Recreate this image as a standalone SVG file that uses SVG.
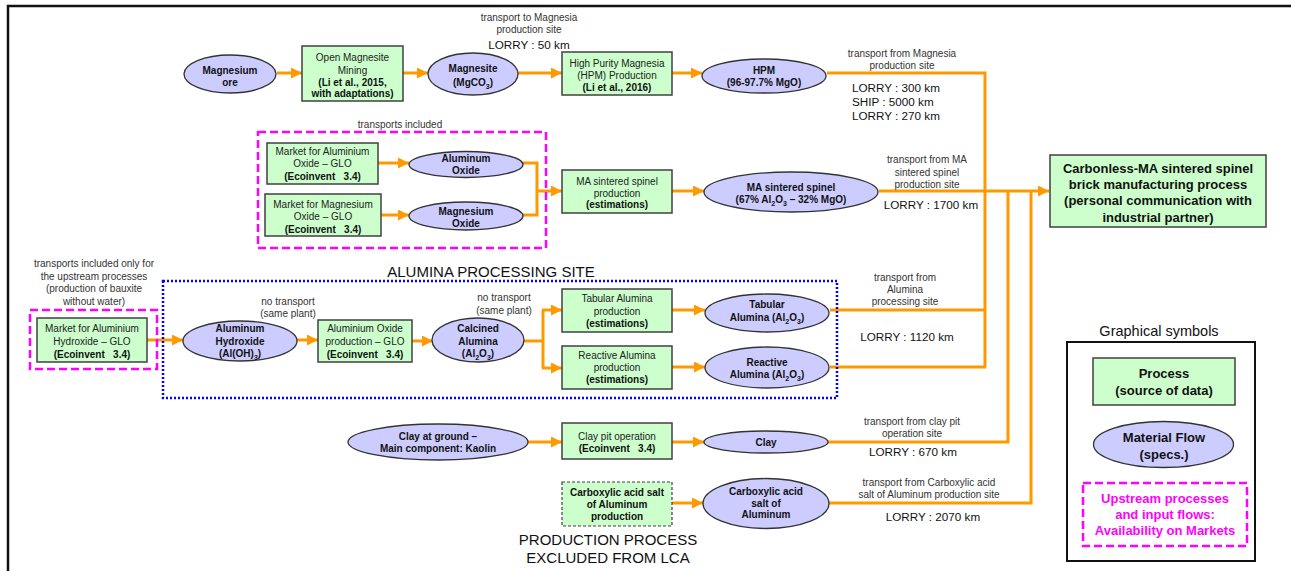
<svg xmlns="http://www.w3.org/2000/svg" width="1291" height="571" viewBox="0 0 1291 571">
<style>
text{font-family:"Liberation Sans",Arial,sans-serif;text-anchor:middle;fill:#222}
.n{font-size:10px}
.b{font-size:10px;font-weight:bold;fill:#111}
.s{font-size:10px;fill:#333}
.l{font-size:11.7px;fill:#111}
.big{font-size:15px;fill:#111}
.proc{fill:#CCFFCC;stroke:#404040;stroke-width:1.5}
.flow{fill:#CCCCFF;stroke:#333;stroke-width:1.3}
.mag{fill:none;stroke:#FF00FF;stroke-width:2.5;stroke-dasharray:8,4}
.c{fill:none;stroke:#FF9900;stroke-width:3}
.a{marker-end:url(#ah)}
</style>
<defs>
<marker id="ah" markerUnits="userSpaceOnUse" markerWidth="11" markerHeight="11" refX="10" refY="5" orient="auto" viewBox="0 0 10 10">
<path d="M0,0 L10,5 L0,10 z" fill="#FF9900"/>
</marker>
</defs>
<rect width="1291" height="571" fill="#fff"/>
<path d="M8,571 V6 H1291" fill="none" stroke="#111" stroke-width="2.5"/>

<g id="connectors">
<line class="c a" x1="277" y1="73" x2="302" y2="73"/>
<line class="c a" x1="403" y1="73" x2="428" y2="73"/>
<line class="c a" x1="518" y1="73" x2="562" y2="73"/>
<line class="c a" x1="672" y1="73" x2="702" y2="73"/>
<path class="c" d="M827,73 H985 V367"/>
<line class="c a" x1="378" y1="163" x2="409" y2="163"/>
<line class="c a" x1="381" y1="215" x2="409" y2="215"/>
<path class="c" d="M523,163 H537 V215 H523"/>
<line class="c a" x1="537" y1="191" x2="562" y2="191"/>
<line class="c a" x1="672" y1="191" x2="704" y2="191"/>
<line class="c a" x1="879" y1="191" x2="1049" y2="191"/>
<line class="c a" x1="147" y1="340" x2="183" y2="340"/>
<line class="c a" x1="296" y1="340" x2="318" y2="340"/>
<line class="c a" x1="412" y1="341" x2="433" y2="341"/>
<path class="c" d="M524,341 H543"/>
<path class="c" d="M543,310 V368"/>
<line class="c a" x1="542" y1="310" x2="562" y2="310"/>
<line class="c a" x1="542" y1="368" x2="562" y2="368"/>
<line class="c a" x1="672" y1="310" x2="705" y2="310"/>
<line class="c a" x1="672" y1="367" x2="705" y2="367"/>
<path class="c" d="M830,310 H985"/>
<path class="c" d="M830,367 H986"/>
<line class="c a" x1="528" y1="442" x2="562" y2="442"/>
<line class="c a" x1="672" y1="442" x2="704" y2="442"/>
<path class="c" d="M828,442 H1008 V191"/>
<line class="c a" x1="672" y1="503" x2="703" y2="503"/>
<path class="c" d="M829,503 H1031 V191"/>
</g>

<g id="labels">
<text class="s" x="529" y="20.5">transport to Magnesia</text>
<text class="s" x="529" y="32.5">production site</text>
<text class="l" x="529" y="49">LORRY : 50 km</text>
<text class="s" x="902" y="56.5">transport from Magnesia</text>
<text class="s" x="902" y="69">production site</text>
<text class="l" x="852" y="92" style="text-anchor:start">LORRY : 300 km</text>
<text class="l" x="852" y="106" style="text-anchor:start">SHIP : 5000 km</text>
<text class="l" x="852" y="120" style="text-anchor:start">LORRY : 270 km</text>
<text class="s" x="400" y="127.5">transports included</text>
<text class="s" x="927" y="162.5">transport from MA</text>
<text class="s" x="927" y="175.5">sintered spinel</text>
<text class="s" x="927" y="187.5">production site</text>
<text class="l" x="931" y="209">LORRY : 1700 km</text>
<text class="big" x="491" y="276.5">ALUMINA PROCESSING SITE</text>
<text class="s" x="94" y="266.5">transports included only for</text>
<text class="s" x="94" y="279.5">the upstream processes</text>
<text class="s" x="94" y="291.5">(production of bauxite</text>
<text class="s" x="94" y="304.5">without water)</text>
<text class="s" x="288" y="304.5">no transport</text>
<text class="s" x="288" y="316.5">(same plant)</text>
<text class="s" x="504" y="300.5">no transport</text>
<text class="s" x="504" y="313.5">(same plant)</text>
<text class="s" x="905" y="280.5">transport from</text>
<text class="s" x="905" y="292.5">Alumina</text>
<text class="s" x="905" y="304.5">processing site</text>
<text class="l" x="907" y="341">LORRY : 1120 km</text>
<text class="s" x="912" y="425">transport from clay pit</text>
<text class="s" x="912" y="437">operation site</text>
<text class="l" x="913" y="456">LORRY : 670 km</text>
<text class="s" x="929" y="485.5">transport from Carboxylic acid</text>
<text class="s" x="929" y="497.5">salt of Aluminum production site</text>
<text class="l" x="933" y="521">LORRY : 2070 km</text>
<text class="big" x="608" y="545">PRODUCTION PROCESS</text>
<text class="big" x="608" y="563">EXCLUDED FROM LCA</text>
</g>

<g id="groups">
<rect class="mag" x="258" y="132" width="288" height="116"/>
<rect x="163" y="281" width="674" height="117" fill="none" stroke="#0000FF" stroke-width="2.5" stroke-dasharray="2,2"/>
<rect class="mag" x="30" y="310" width="127" height="59"/>
</g>

<g id="magnesium-ore">
<ellipse class="flow" cx="230" cy="74" rx="46" ry="19"/>
<text class="b" x="230" y="73.5">Magnesium</text>
<text class="b" x="230" y="85.5">ore</text>
</g>
<g id="open-magnesite-mining">
<rect class="proc" x="302" y="46" width="101" height="55"/>
<text class="n" x="352.5" y="60.5">Open Magnesite</text>
<text class="n" x="352.5" y="73.5">Mining</text>
<text class="b" x="352.5" y="85.5">(Li et al., 2015,</text>
<text class="b" x="352.5" y="97">with adaptations)</text>
</g>
<g id="magnesite">
<ellipse class="flow" cx="473" cy="74" rx="45" ry="21"/>
<text class="b" x="473" y="72">Magnesite</text>
<text class="b" x="473" y="85.5">(MgCO<tspan font-size="7" dy="3">3</tspan><tspan dy="-3">)</tspan></text>
</g>
<g id="hpm-production">
<rect class="proc" x="562" y="52" width="110" height="43"/>
<text class="n" x="617" y="66.5">High Purity Magnesia</text>
<text class="n" x="617" y="78.5">(HPM) Production</text>
<text class="b" x="617" y="91">(Li et al., 2016)</text>
</g>
<g id="hpm">
<ellipse class="flow" cx="764" cy="76" rx="62" ry="17"/>
<text class="b" x="764" y="73.5">HPM</text>
<text class="b" x="764" y="85.5">(96-97.7% MgO)</text>
</g>

<g id="market-aluminium-oxide">
<rect class="proc" x="267" y="143" width="111" height="41"/>
<text class="n" x="322.5" y="154.5">Market for Aluminium</text>
<text class="n" x="322.5" y="166.5">Oxide – GLO</text>
<text class="b" x="322.5" y="179.5" xml:space="preserve">(Ecoinvent   3.4)</text>
</g>
<g id="market-magnesium-oxide">
<rect class="proc" x="265" y="194" width="116" height="42"/>
<text class="n" x="323" y="207.5">Market for Magnesium</text>
<text class="n" x="323" y="220">Oxide – GLO</text>
<text class="b" x="323" y="232.5" xml:space="preserve">(Ecoinvent   3.4)</text>
</g>
<g id="aluminum-oxide">
<ellipse class="flow" cx="466" cy="164.5" rx="57" ry="13"/>
<text class="b" x="466" y="161.5">Aluminum</text>
<text class="b" x="466" y="173.5">Oxide</text>
</g>
<g id="magnesium-oxide">
<ellipse class="flow" cx="466" cy="216" rx="57" ry="14"/>
<text class="b" x="466" y="214.5">Magnesium</text>
<text class="b" x="466" y="226.5">Oxide</text>
</g>
<g id="ma-spinel-production">
<rect class="proc" x="562" y="170" width="110" height="43"/>
<text class="n" x="617" y="184.5">MA sintered spinel</text>
<text class="n" x="617" y="196.5">production</text>
<text class="b" x="617" y="208">(estimations)</text>
</g>
<g id="ma-spinel">
<ellipse class="flow" cx="791" cy="192" rx="87" ry="20"/>
<text class="b" x="791" y="190.5">MA sintered spinel</text>
<text class="b" x="791" y="202.5">(67% Al<tspan font-size="7" dy="3">2</tspan><tspan dy="-3">O</tspan><tspan font-size="7" dy="3">3</tspan><tspan dy="-3"> – 32% MgO)</tspan></text>
</g>
<g id="carbonless-brick">
<rect class="proc" x="1050" y="155" width="216" height="72"/>
<text x="1158" y="172.5" style="font-size:13px;font-weight:bold;fill:#111">Carbonless-MA sintered spinel</text>
<text x="1158" y="188.5" style="font-size:13px;font-weight:bold;fill:#111">brick manufacturing process</text>
<text x="1158" y="205" style="font-size:13px;font-weight:bold;fill:#111">(personal communication with</text>
<text x="1158" y="221.5" style="font-size:13px;font-weight:bold;fill:#111">industrial partner)</text>
</g>

<g id="market-aluminium-hydroxide">
<rect class="proc" x="37" y="318" width="110" height="44"/>
<text class="n" x="92" y="331.5">Market for Aluminium</text>
<text class="n" x="92" y="344.5">Hydroxide – GLO</text>
<text class="b" x="92" y="357.5" xml:space="preserve">(Ecoinvent   3.4)</text>
</g>
<g id="aluminum-hydroxide">
<ellipse class="flow" cx="240" cy="341" rx="57" ry="20"/>
<text class="b" x="240" y="331.5">Aluminum</text>
<text class="b" x="240" y="344.5">Hydroxide</text>
<text class="b" x="240" y="357">(Al(OH)<tspan font-size="7" dy="3">3</tspan><tspan dy="-3">)</tspan></text>
</g>
<g id="aluminium-oxide-production">
<rect class="proc" x="318" y="320" width="94" height="42"/>
<text class="n" x="365" y="331.5">Aluminium Oxide</text>
<text class="n" x="365" y="344.5">production – GLO</text>
<text class="b" x="365" y="357.5" xml:space="preserve">(Ecoinvent   3.4)</text>
</g>
<g id="calcined-alumina">
<ellipse class="flow" cx="478" cy="340" rx="46" ry="22"/>
<text class="b" x="478" y="331.5">Calcined</text>
<text class="b" x="478" y="344.5">Alumina</text>
<text class="b" x="478" y="356.5">(Al<tspan font-size="7" dy="3">2</tspan><tspan dy="-3">O</tspan><tspan font-size="7" dy="3">3</tspan><tspan dy="-3">)</tspan></text>
</g>
<g id="tabular-production">
<rect class="proc" x="562" y="289" width="110" height="43"/>
<text class="n" x="617" y="301.5">Tabular Alumina</text>
<text class="n" x="617" y="314.5">production</text>
<text class="b" x="617" y="326.5">(estimations)</text>
</g>
<g id="reactive-production">
<rect class="proc" x="562" y="346" width="110" height="43"/>
<text class="n" x="617" y="358.5">Reactive Alumina</text>
<text class="n" x="617" y="370.5">production</text>
<text class="b" x="617" y="382.5">(estimations)</text>
</g>
<g id="tabular-alumina">
<ellipse class="flow" cx="767" cy="313" rx="62" ry="19"/>
<text class="b" x="767" y="307.5">Tabular</text>
<text class="b" x="767" y="320.5">Alumina (Al<tspan font-size="7" dy="3">2</tspan><tspan dy="-3">O</tspan><tspan font-size="7" dy="3">3</tspan><tspan dy="-3">)</tspan></text>
</g>
<g id="reactive-alumina">
<ellipse class="flow" cx="767" cy="367.5" rx="62" ry="20.5"/>
<text class="b" x="767" y="365.5">Reactive</text>
<text class="b" x="767" y="377.5">Alumina (Al<tspan font-size="7" dy="3">2</tspan><tspan dy="-3">O</tspan><tspan font-size="7" dy="3">3</tspan><tspan dy="-3">)</tspan></text>
</g>

<g id="clay-at-ground">
<ellipse class="flow" cx="438" cy="442" rx="90" ry="18"/>
<text class="b" x="438" y="439.5">Clay at ground –</text>
<text class="b" x="438" y="451.5">Main component: Kaolin</text>
</g>
<g id="clay-pit-operation">
<rect class="proc" x="562" y="423" width="110" height="36"/>
<text class="n" x="617" y="439.5">Clay pit operation</text>
<text class="b" x="617" y="451.5" xml:space="preserve">(Ecoinvent   3.4)</text>
</g>
<g id="clay">
<ellipse class="flow" cx="766" cy="442" rx="62" ry="11"/>
<text class="b" x="766" y="445.5">Clay</text>
</g>
<g id="carboxylic-production">
<rect x="562" y="482" width="110" height="44" fill="#CCFFCC" stroke="#404040" stroke-width="1.2" stroke-dasharray="3,2"/>
<text class="b" x="617" y="495.5">Carboxylic acid salt</text>
<text class="b" x="617" y="507.5">of Aluminum</text>
<text class="b" x="617" y="519.5">production</text>
</g>
<g id="carboxylic-salt">
<ellipse class="flow" cx="766" cy="503.5" rx="63" ry="25"/>
<text class="b" x="766" y="494.5">Carboxylic acid</text>
<text class="b" x="766" y="506.5">salt of</text>
<text class="b" x="766" y="518">Aluminum</text>
</g>

<g id="legend">
<text x="1159" y="336" style="font-size:14.5px;fill:#111">Graphical symbols</text>
<rect x="1067" y="342" width="188" height="219" fill="none" stroke="#111" stroke-width="2"/>
<rect class="proc" x="1093" y="358" width="142" height="47"/>
<text x="1164" y="377.5" style="font-size:13px;font-weight:bold;fill:#111">Process</text>
<text x="1164" y="394.5" style="font-size:13px;font-weight:bold;fill:#111">(source of data)</text>
<ellipse class="flow" cx="1163.5" cy="444.5" rx="70" ry="23"/>
<text x="1164" y="441.5" style="font-size:13px;font-weight:bold;fill:#111">Material Flow</text>
<text x="1164" y="458.5" style="font-size:13px;font-weight:bold;fill:#111">(specs.)</text>
<rect class="mag" x="1083" y="483" width="164" height="63"/>
<text x="1165" y="502.5" style="font-size:13px;font-weight:bold;fill:#FF00FF">Upstream processes</text>
<text x="1165" y="518.5" style="font-size:13px;font-weight:bold;fill:#FF00FF">and input flows:</text>
<text x="1165" y="534.5" style="font-size:13px;font-weight:bold;fill:#FF00FF">Availability on Markets</text>
</g>
</svg>
